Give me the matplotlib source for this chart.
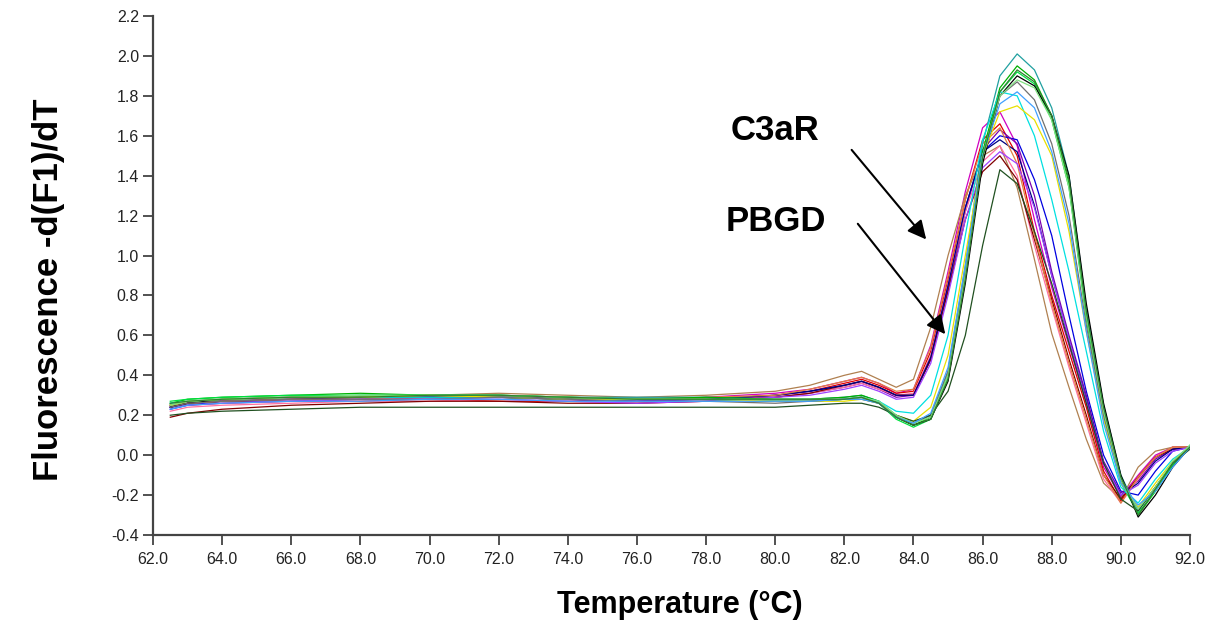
import matplotlib
matplotlib.use("Agg")
import matplotlib.pyplot as plt

# Temperature grid (deg C)
temps = [62.5, 63.0, 64.0, 66.0, 68.0, 70.0, 72.0, 74.0, 76.0, 78.0, 80.0, 81.0,
         82.0, 82.5, 83.0, 83.5, 84.0, 84.5, 85.0, 85.5, 86.0, 86.5, 87.0, 87.5,
         88.0, 88.5, 89.0, 89.5, 90.0, 90.5, 91.0, 91.5, 92.0]

# C3aR melt curves (earlier, lower peaks)
c3ar_curves = [
    [0.24,0.26,0.27,0.28,0.29,0.29,0.30,0.28,0.27,0.29,0.31,0.33,0.37,0.39,0.36,0.31,0.33,0.55,0.92,1.32,1.64,1.72,1.55,1.18,0.84,0.55,0.26,-0.06,-0.21,-0.10,0.00,0.04,0.04],
    [0.25,0.25,0.26,0.27,0.27,0.28,0.27,0.27,0.28,0.28,0.30,0.32,0.36,0.38,0.35,0.31,0.32,0.52,0.88,1.28,1.58,1.66,1.50,1.12,0.80,0.52,0.24,-0.08,-0.23,-0.11,-0.01,0.04,0.04],
    [0.23,0.25,0.27,0.28,0.28,0.29,0.29,0.28,0.27,0.28,0.30,0.32,0.35,0.37,0.34,0.30,0.30,0.48,0.84,1.24,1.52,1.60,1.58,1.38,1.10,0.70,0.32,0.00,-0.18,-0.20,-0.08,0.02,0.04],
    [0.24,0.26,0.27,0.27,0.28,0.28,0.29,0.28,0.27,0.28,0.29,0.31,0.34,0.36,0.33,0.29,0.30,0.48,0.83,1.22,1.53,1.63,1.56,1.30,0.92,0.60,0.30,-0.03,-0.19,-0.13,-0.02,0.03,0.04],
    [0.25,0.26,0.27,0.28,0.29,0.30,0.31,0.30,0.29,0.30,0.32,0.35,0.40,0.42,0.38,0.34,0.38,0.64,1.00,1.30,1.50,1.55,1.34,0.98,0.61,0.34,0.08,-0.14,-0.22,-0.06,0.02,0.04,0.04],
    [0.22,0.24,0.25,0.26,0.27,0.27,0.28,0.27,0.26,0.27,0.29,0.31,0.34,0.36,0.33,0.30,0.31,0.50,0.86,1.22,1.47,1.55,1.40,1.05,0.74,0.44,0.16,-0.12,-0.24,-0.12,-0.01,0.04,0.03],
    [0.19,0.21,0.23,0.25,0.26,0.27,0.27,0.26,0.26,0.27,0.29,0.31,0.35,0.37,0.34,0.30,0.30,0.48,0.82,1.18,1.42,1.50,1.38,1.08,0.78,0.48,0.20,-0.10,-0.22,-0.11,-0.01,0.03,0.04],
    [0.24,0.26,0.27,0.28,0.29,0.29,0.29,0.28,0.28,0.28,0.30,0.32,0.35,0.37,0.34,0.30,0.30,0.49,0.85,1.24,1.52,1.58,1.52,1.25,0.90,0.58,0.28,-0.04,-0.20,-0.14,-0.03,0.03,0.04],
    [0.25,0.26,0.27,0.28,0.28,0.29,0.30,0.29,0.28,0.29,0.30,0.33,0.37,0.39,0.36,0.32,0.33,0.54,0.90,1.28,1.56,1.64,1.46,1.10,0.76,0.46,0.18,-0.10,-0.24,-0.11,-0.01,0.04,0.04],
    [0.24,0.25,0.26,0.27,0.28,0.28,0.28,0.27,0.26,0.27,0.29,0.30,0.33,0.35,0.32,0.28,0.29,0.46,0.80,1.18,1.44,1.52,1.46,1.24,0.90,0.58,0.27,-0.04,-0.20,-0.15,-0.04,0.02,0.04],
]
c3ar_colors = ["#d000c0", "#e00000", "#0000e0", "#7a00b0", "#b08050",
               "#ff70a0", "#800000", "#000080", "#e08040", "#a040ff"]

# PBGD melt curves (later, taller peaks)
pbgd_curves = [
    [0.25,0.27,0.28,0.29,0.30,0.30,0.30,0.29,0.29,0.29,0.28,0.28,0.29,0.30,0.27,0.20,0.16,0.20,0.42,0.95,1.56,1.90,2.01,1.93,1.74,1.40,0.74,0.25,-0.10,-0.28,-0.16,-0.04,0.04],
    [0.26,0.28,0.29,0.30,0.31,0.30,0.30,0.29,0.28,0.29,0.28,0.28,0.29,0.30,0.27,0.19,0.15,0.19,0.40,0.92,1.52,1.84,1.95,1.88,1.70,1.36,0.70,0.22,-0.12,-0.30,-0.18,-0.05,0.04],
    [0.27,0.28,0.29,0.30,0.30,0.30,0.30,0.29,0.28,0.28,0.27,0.27,0.28,0.29,0.26,0.18,0.14,0.18,0.38,0.90,1.50,1.82,1.92,1.86,1.68,1.34,0.68,0.20,-0.14,-0.29,-0.18,-0.05,0.05],
    [0.24,0.26,0.28,0.29,0.29,0.29,0.29,0.28,0.28,0.28,0.27,0.27,0.28,0.29,0.26,0.19,0.15,0.18,0.37,0.86,1.46,1.80,1.90,1.85,1.70,1.40,0.76,0.26,-0.10,-0.31,-0.20,-0.06,0.04],
    [0.26,0.27,0.28,0.29,0.29,0.29,0.29,0.28,0.28,0.28,0.27,0.27,0.28,0.29,0.27,0.22,0.21,0.30,0.60,1.10,1.58,1.82,1.80,1.60,1.28,0.92,0.52,0.12,-0.16,-0.24,-0.12,-0.02,0.04],
    [0.25,0.27,0.28,0.29,0.29,0.30,0.29,0.28,0.28,0.28,0.27,0.27,0.27,0.28,0.26,0.20,0.17,0.24,0.50,1.00,1.50,1.72,1.75,1.68,1.50,1.12,0.62,0.18,-0.14,-0.26,-0.14,-0.03,0.04],
    [0.24,0.26,0.27,0.28,0.28,0.28,0.29,0.28,0.27,0.27,0.26,0.27,0.28,0.28,0.26,0.19,0.16,0.20,0.42,0.92,1.50,1.80,1.87,1.78,1.56,1.20,0.65,0.20,-0.12,-0.27,-0.16,-0.04,0.04],
    [0.20,0.21,0.22,0.23,0.24,0.24,0.24,0.24,0.24,0.24,0.24,0.25,0.26,0.26,0.24,0.20,0.17,0.20,0.32,0.60,1.05,1.43,1.36,1.12,0.86,0.56,0.26,-0.04,-0.22,-0.28,-0.16,-0.04,0.03],
    [0.25,0.27,0.28,0.29,0.30,0.30,0.30,0.29,0.28,0.28,0.28,0.28,0.28,0.29,0.27,0.20,0.16,0.19,0.40,0.90,1.50,1.80,1.88,1.84,1.68,1.34,0.70,0.22,-0.12,-0.27,-0.16,-0.03,0.05],
    [0.23,0.25,0.26,0.27,0.27,0.28,0.28,0.27,0.27,0.27,0.27,0.27,0.28,0.28,0.26,0.19,0.16,0.21,0.44,0.95,1.50,1.76,1.82,1.74,1.52,1.16,0.62,0.16,-0.14,-0.25,-0.18,-0.06,0.04],
    [0.26,0.27,0.28,0.29,0.29,0.30,0.30,0.29,0.28,0.28,0.28,0.28,0.28,0.29,0.26,0.19,0.15,0.18,0.38,0.88,1.49,1.82,1.93,1.87,1.70,1.38,0.72,0.24,-0.11,-0.30,-0.17,-0.04,0.04],
]
pbgd_colors = ["#20a0a0", "#00b000", "#00e040", "#000000", "#00e0e0",
               "#e8e000", "#707070", "#205020", "#80e080", "#40a0ff", "#308030"]

x_ticks = [62.0, 64.0, 66.0, 68.0, 70.0, 72.0, 74.0, 76.0, 78.0, 80.0,
           82.0, 84.0, 86.0, 88.0, 90.0, 92.0]
y_ticks = [-0.4, -0.2, 0.0, 0.2, 0.4, 0.6, 0.8, 1.0, 1.2, 1.4, 1.6, 1.8, 2.0, 2.2]

plt.rcParams['font.family'] = ['Liberation Sans', 'DejaVu Sans']

fig = plt.figure(figsize=(12.16, 6.30), dpi=100)
ax = fig.add_axes([153/1216, 1 - 535/630, 1037/1216, (535 - 16)/630])

for vals, col in zip(c3ar_curves, c3ar_colors):
    ax.plot(temps, vals, color=col, lw=0.9)
for vals, col in zip(pbgd_curves, pbgd_colors):
    ax.plot(temps, vals, color=col, lw=0.9)

ax.set_xlim(62.0, 92.0)
ax.set_ylim(-0.4, 2.2)
ax.set_xticks(x_ticks)
ax.set_xticklabels([f"{v:.1f}" for v in x_ticks])
ax.set_yticks(y_ticks)
ax.set_yticklabels([f"{v:.1f}" for v in y_ticks])
ax.tick_params(axis='both', direction='out', length=7, width=1.2,
               labelsize=11.5, color='#333333', labelcolor='#222222')
ax.tick_params(axis='x', pad=5)
ax.tick_params(axis='y', pad=3)
for s in ['top', 'right']:
    ax.spines[s].set_visible(False)
for s in ['left', 'bottom']:
    ax.spines[s].set_color('#444444')
    ax.spines[s].set_linewidth(1.6)

fig.text(49/1216, 1 - 290/630, "Fluorescence -d(F1)/dT", rotation=90,
         ha='center', va='center', fontsize=25, fontweight='bold')
fig.text(680/1216, 1 - 605/630, "Temperature (\u00b0C)",
         ha='center', va='center', fontsize=22, fontweight='bold')

ax.text(80.0, 1.625, "C3aR", ha='center', va='center', fontsize=25, fontweight='bold')
ax.text(80.02, 1.17, "PBGD", ha='center', va='center', fontsize=25, fontweight='bold')
ax.annotate("", xy=(84.42, 1.07), xytext=(82.16, 1.54),
            arrowprops=dict(arrowstyle='-|>', mutation_scale=28, lw=1.5, color='black'))
ax.annotate("", xy=(84.97, 0.595), xytext=(82.34, 1.17),
            arrowprops=dict(arrowstyle='-|>', mutation_scale=28, lw=1.5, color='black'))

fig.savefig("out.png", dpi=100)
